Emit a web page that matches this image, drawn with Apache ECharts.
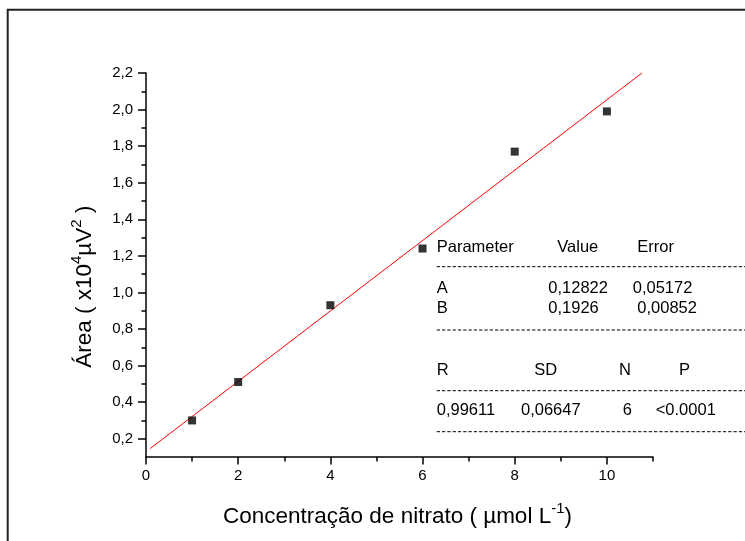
<!DOCTYPE html>
<html>
<head>
<meta charset="utf-8">
<script src="https://cdn.jsdelivr.net/npm/echarts@6/dist/echarts.min.js"></script>
<style>
html,body{margin:0;padding:0;background:#fff;}
#chart{width:745px;height:541px;}
</style>
</head>
<body>
<div id="chart"></div>
<script>
// ---- data ----
const xValues = [1, 2, 4, 6, 8, 10];
const yValues = [0.30, 0.51, 0.93, 1.24, 1.77, 1.99];
const fitX = [0.09, 10.76];
const fitY = [0.146, 2.2];
const xMajorTicks = [0, 2, 4, 6, 8, 10];
const xMinorTicks = [1, 3, 5, 7, 9, 11];
const yMajorTicks = [0.2, 0.4, 0.6, 0.8, 1.0, 1.2, 1.4, 1.6, 1.8, 2.0, 2.2];
const yMinorTicks = [0.3, 0.5, 0.7, 0.9, 1.1, 1.3, 1.5, 1.7, 1.9, 2.1];
const paramHeader = ['Parameter', 'Value', 'Error'];
const paramRowA = ['A', '0,12822', '0,05172'];
const paramRowB = ['B', '0,1926', '0,00852'];
const statHeader = ['R', 'SD', 'N', 'P'];
const statRow = ['0,99611', '0,06647', '6', '<0.0001'];
const xTitle = ['Concentração de nitrato ( µmol L', '-1', ')'];
const yTitle = ['Área ( x10', '4', 'µV', '2', ' )'];

const FONT = '"Liberation Sans", Arial, Helvetica, sans-serif';
const chart = echarts.init(document.getElementById('chart'), null, {renderer: 'canvas'});

const xMin = 0, xMax = 11, yMin = 0.1, yMax = 2.2;
const fmtY = v => v.toFixed(1).replace('.', ',');

function textEl(t, x, y, size, align) {
  return {type: 'text', x: x, y: y, silent: true,
    style: {text: t, fill: '#000', font: size + 'px ' + FONT, align: align || 'left', verticalAlign: 'middle'}};
}
function dashLine(y) {
  return {type: 'line', silent: true, shape: {x1: 436.7, y1: y, x2: 760, y2: y},
    style: {stroke: '#000', lineWidth: 1, lineDash: [3.3, 2]}};
}

const TS = 16.5;
const titleRich = {
  n: {fontSize: 22.5, fontFamily: FONT, fill: '#000', lineHeight: 31},
  s: {fontSize: 15, fontFamily: FONT, fill: '#000', lineHeight: 15, verticalAlign: 'top'}
};
const graphics = [
  {type: 'rect', silent: true, shape: {x: 7.7, y: 9.7, width: 900, height: 700},
    style: {fill: 'none', stroke: '#222', lineWidth: 2}},
  // table
  textEl(paramHeader[0], 436.7, 247.7, TS), textEl(paramHeader[1], 557.3, 247.7, TS), textEl(paramHeader[2], 637.3, 247.7, TS),
  dashLine(266.7),
  textEl(paramRowA[0], 436.7, 288.3, TS), textEl(paramRowA[1], 548.3, 288.3, TS), textEl(paramRowA[2], 632.7, 288.3, TS),
  textEl(paramRowB[0], 436.7, 308.3, TS), textEl(paramRowB[1], 548.3, 308.3, TS), textEl(paramRowB[2], 637.3, 308.3, TS),
  dashLine(330),
  textEl(statHeader[0], 436.7, 370.7, TS), textEl(statHeader[1], 534.3, 370.7, TS), textEl(statHeader[2], 619, 370.7, TS), textEl(statHeader[3], 679, 370.7, TS),
  dashLine(390.7),
  textEl(statRow[0], 436.7, 410.7, TS), textEl(statRow[1], 521, 410.7, TS), textEl(statRow[2], 622.7, 410.7, TS), textEl(statRow[3], 655.7, 410.7, TS),
  dashLine(431.7),
  // axis titles
  {type: 'text', silent: true, x: 397.5, y: 516.7,
    style: {text: '{n|' + xTitle[0] + '}{s|' + xTitle[1] + '}{n|' + xTitle[2] + '}',
      align: 'center', verticalAlign: 'middle', rich: titleRich}},
  {type: 'text', silent: true, x: 85, y: 286.7, rotation: Math.PI / 2,
    style: {text: '{n|' + yTitle[0] + '}{s|' + yTitle[1] + '}{n|' + yTitle[2] + '}{s|' + yTitle[3] + '}{n|' + yTitle[4] + '}',
      align: 'center', verticalAlign: 'middle', rich: titleRich}}
];

const axisLineStyle = {color: '#000', width: 1.5};

chart.setOption({
  animation: false,
  backgroundColor: '#fff',
  grid: {left: 146, right: 92, top: 73, bottom: 84, containLabel: false},
  xAxis: [
    {type: 'value', min: xMin, max: xMax, position: 'bottom',
      axisLine: {show: true, onZero: false, lineStyle: axisLineStyle},
      axisTick: {show: true, inside: false, length: 7.5, lineStyle: axisLineStyle, customValues: xMajorTicks},
      axisLabel: {show: true, margin: 11, color: '#000', fontSize: 15, fontFamily: FONT, customValues: xMajorTicks},
      splitLine: {show: false}},
    {type: 'value', min: xMin, max: xMax, position: 'bottom',
      axisLine: {show: false, onZero: false},
      axisTick: {show: true, inside: false, length: 4.5, lineStyle: axisLineStyle, customValues: xMinorTicks},
      axisLabel: {show: false},
      splitLine: {show: false}}
  ],
  yAxis: [
    {type: 'value', min: yMin, max: yMax, position: 'left',
      axisLine: {show: true, onZero: false, lineStyle: axisLineStyle},
      axisTick: {show: true, inside: false, length: 8, lineStyle: axisLineStyle, customValues: yMajorTicks},
      axisLabel: {show: true, margin: 13, color: '#000', fontSize: 15, fontFamily: FONT, formatter: fmtY, customValues: yMajorTicks},
      splitLine: {show: false}},
    {type: 'value', min: yMin, max: yMax, position: 'left',
      axisLine: {show: false, onZero: false},
      axisTick: {show: true, inside: false, length: 4.5, lineStyle: axisLineStyle, customValues: yMinorTicks},
      axisLabel: {show: false},
      splitLine: {show: false}}
  ],
  series: [
    {type: 'line', xAxisIndex: 0, yAxisIndex: 0, silent: true, symbol: 'none',
      lineStyle: {color: '#ff0000', width: 1},
      data: fitX.map((x, i) => [x, fitY[i]]), z: 2},
    {type: 'scatter', xAxisIndex: 0, yAxisIndex: 0, symbol: 'rect', symbolSize: 8,
      itemStyle: {color: '#000'},
      data: xValues.map((x, i) => [x, yValues[i]]), z: 3}
  ],
  graphic: graphics
});
</script>
</body>
</html>
